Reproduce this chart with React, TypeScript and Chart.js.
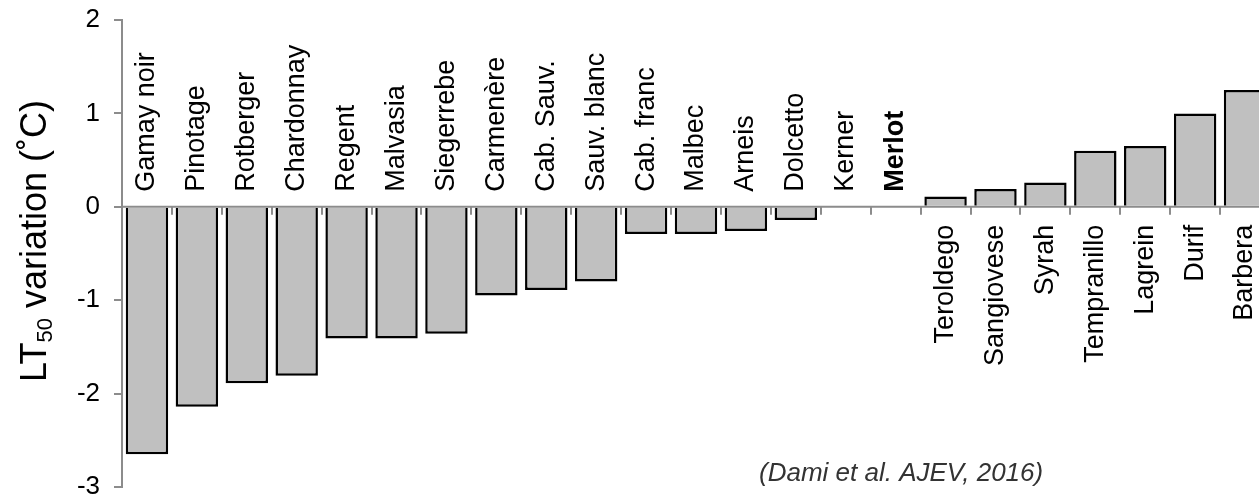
import React, { useEffect, useRef } from 'react';
import { Chart, registerables } from 'chart.js';

Chart.register(...registerables);

const categories = [
  'Gamay noir', 'Pinotage', 'Rotberger', 'Chardonnay', 'Regent', 'Malvasia',
  'Siegerrebe', 'Carmenère', 'Cab. Sauv.', 'Sauv. blanc', 'Cab. franc', 'Malbec',
  'Arneis', 'Dolcetto', 'Kerner', 'Merlot', 'Teroldego', 'Sangiovese', 'Syrah',
  'Tempranillo', 'Lagrein', 'Durif', 'Barbera',
];
const values = [
  -2.65, -2.14, -1.89, -1.81, -1.41, -1.41,
  -1.36, -0.95, -0.89, -0.80, -0.29, -0.29,
  -0.26, -0.14, 0, 0, 0.11, 0.19, 0.26,
  0.60, 0.65, 1.00, 1.25,
];
const boldCategories = ['Merlot'];
const yMin = -3;
const yMax = 2;
const yStep = 1;
const yTitleMain = 'LT';
const yTitleSub = '50';
const yTitleRest = ' variation (˚C)';
const citation = '(Dami et al. AJEV, 2016)';

const FONT = '"Liberation Sans", Arial, Helvetica, sans-serif';
const AXIS = '#8c8c8c';

export default function App() {
  const ref = useRef<HTMLCanvasElement>(null);

  useEffect(() => {
    const canvas = ref.current;
    if (!canvas) return;

    const customPlugin = {
      id: 'customDraw',
      afterDatasetsDraw(chart: any) {
        const { ctx, chartArea, scales } = chart;
        const xs = scales.x;
        const ys = scales.y;
        const y0 = ys.getPixelForValue(0);
        ctx.save();
        ctx.strokeStyle = AXIS;
        ctx.lineWidth = 2;
        ctx.beginPath();
        ctx.moveTo(chartArea.left, y0);
        ctx.lineTo(chartArea.right, y0);
        for (let i = 1; i < categories.length; i++) {
          const bx = Math.round((xs.getPixelForValue(i - 1) + xs.getPixelForValue(i)) / 2);
          ctx.moveTo(bx, y0);
          ctx.lineTo(bx, y0 + 8);
        }
        ctx.stroke();

        categories.forEach((c, i) => {
          const cx = xs.getPixelForValue(i);
          const neg = values[i] <= 0;
          ctx.save();
          ctx.translate(cx, neg ? y0 - 15 : y0 + 18);
          ctx.rotate(-Math.PI / 2);
          ctx.font = `${boldCategories.includes(c) ? 'bold ' : ''}27px ${FONT}`;
          ctx.textBaseline = 'middle';
          ctx.textAlign = neg ? 'left' : 'right';
          ctx.fillStyle = '#000';
          ctx.fillText(c, 0, 0);
          ctx.restore();
        });
        ctx.restore();
      },
      afterDraw(chart: any) {
        const { ctx } = chart;
        ctx.save();
        // y-axis title with subscript
        const size = 36;
        const subSize = 22;
        ctx.font = `${size}px ${FONT}`;
        const w1 = ctx.measureText(yTitleMain).width;
        const w3 = ctx.measureText(yTitleRest).width;
        ctx.font = `${subSize}px ${FONT}`;
        const w2 = ctx.measureText(yTitleSub).width;
        const total = w1 + w2 + w3;
        ctx.translate(46, 241);
        ctx.rotate(-Math.PI / 2);
        ctx.fillStyle = '#000';
        ctx.textBaseline = 'alphabetic';
        ctx.textAlign = 'left';
        let x = -total / 2;
        ctx.font = `${size}px ${FONT}`;
        ctx.fillText(yTitleMain, x, 0);
        x += w1;
        ctx.font = `${subSize}px ${FONT}`;
        ctx.fillText(yTitleSub, x, 6);
        x += w2;
        ctx.font = `${size}px ${FONT}`;
        ctx.fillText(yTitleRest, x, 0);
        ctx.restore();

        ctx.save();
        ctx.font = `italic 26px ${FONT}`;
        ctx.fillStyle = '#333';
        ctx.textBaseline = 'middle';
        ctx.textAlign = 'left';
        ctx.fillText(citation, 759, 474);
        ctx.restore();
      },
    };

    const chart = new Chart(canvas, {
      type: 'bar',
      data: {
        labels: categories,
        datasets: [
          {
            data: values,
            backgroundColor: '#c0c0c0',
            borderColor: '#000',
            borderWidth: (c: any) => (values[c.dataIndex] === 0 ? 0 : 2.5),
            barPercentage: 0.85,
            categoryPercentage: 1,
          },
        ],
      },
      options: {
        responsive: false,
        animation: false,
        devicePixelRatio: 1,
        layout: { padding: { top: 20, bottom: 11, right: 5, left: 0 } },
        plugins: {
          legend: { display: false },
          tooltip: { enabled: false },
        },
        scales: {
          x: { display: false },
          y: {
            min: yMin,
            max: yMax,
            ticks: {
              stepSize: yStep,
              font: { size: 26, family: FONT },
              color: '#000',
              padding: 14,
            },
            grid: {
              drawOnChartArea: false,
              drawTicks: true,
              tickLength: 8,
              color: AXIS,
              lineWidth: 2,
            },
            border: { color: AXIS, width: 2 },
            afterFit: (s: any) => {
              s.width = 122;
              s.paddingTop = 0;
              s.paddingBottom = 0;
            },
          },
        },
      },
      plugins: [customPlugin],
    });

    return () => chart.destroy();
  }, []);

  return (
    <div
      style={{
        position: 'absolute',
        left: 0,
        top: 0,
        width: 1259,
        height: 498,
        overflow: 'hidden',
        background: '#fff',
      }}
    >
      <canvas ref={ref} width={1275} height={498} style={{ display: 'block', width: 1275, height: 498 }} />
    </div>
  );
}
